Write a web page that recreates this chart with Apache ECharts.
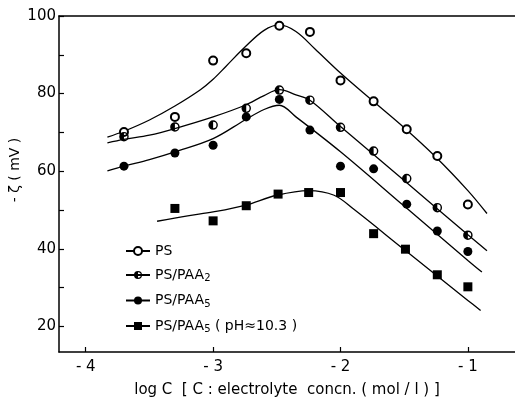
<!DOCTYPE html>
<html>
<head>
<meta charset="utf-8">
<script src="https://cdn.jsdelivr.net/npm/echarts@6/dist/echarts.min.js"></script>
<style>
  html, body { margin: 0; padding: 0; background: #fff; }
  #chart { width: 515px; height: 399px; }
</style>
</head>
<body>
<div id="chart"></div>
<script>
// Measured points: log C on x, -zeta (mV) on y
const logC = [-3.7, -3.3, -3.0, -2.74, -2.48, -2.24, -2.0, -1.74, -1.48, -1.24, -1.0];
const zetaPS = [70.1, 74.0, 88.5, 90.4, 97.5, 95.9, 83.4, 78.0, 70.8, 63.9, 51.4];
const zetaPAA2 = [68.9, 71.4, 71.9, 76.2, 80.9, 78.3, 71.3, 65.2, 58.1, 50.6, 43.5];
const zetaPAA5 = [61.3, 64.7, 66.7, 74.0, 78.5, 70.6, 61.3, 60.6, 51.5, 44.6, 39.3];
const logCHighPH = [-3.3, -3.0, -2.74, -2.49, -2.25, -2.0, -1.74, -1.49, -1.24, -1.0];
const zetaPAA5HighPH = [50.4, 47.2, 51.1, 54.1, 54.5, 54.5, 43.9, 39.9, 33.3, 30.2];

// Fitted curves drawn through each set
const fitPSx = [-3.83, -3.7, -3.5, -3.3, -3.1, -3.0, -2.9, -2.75, -2.6, -2.48, -2.35, -2.2, -2.0, -1.75, -1.5, -1.25, -1.0, -0.85];
const fitPSy = [68.8, 70.3, 73.2, 76.8, 81.0, 83.7, 87.0, 92.0, 96.3, 97.7, 96.0, 91.5, 85.3, 78.2, 71.2, 63.6, 55.0, 49.1];
const fitPAA2x = [-3.83, -3.7, -3.5, -3.3, -3.0, -2.75, -2.6, -2.48, -2.35, -2.24, -2.0, -1.5, -1.0, -0.85];
const fitPAA2y = [67.3, 68.2, 69.3, 71.0, 74.0, 77.0, 79.5, 81.0, 79.7, 78.3, 71.5, 57.6, 43.6, 39.5];
const fitPAA5x = [-3.83, -3.7, -3.5, -3.3, -3.0, -2.75, -2.6, -2.48, -2.35, -2.0, -1.5, -1.0, -0.89];
const fitPAA5y = [60.1, 61.3, 63.0, 65.0, 68.4, 73.2, 75.9, 77.0, 74.0, 65.0, 51.0, 37.0, 34.0];
const fitHighPHx = [-3.44, -3.2, -3.0, -2.75, -2.5, -2.25, -2.05, -1.9, -1.5, -1.0, -0.9];
const fitHighPHy = [47.1, 48.5, 49.5, 51.2, 53.8, 55.0, 53.8, 50.3, 39.8, 26.7, 24.1];

// Axis ticks and labels
const xTicks = [-4, -3, -2, -1];
const yTicks = [20, 30, 40, 50, 60, 70, 80, 90, 100];
const yLabels = [20, 40, 60, 80, 100];

const seriesNames = ['PS', 'PS/PAA2', 'PS/PAA5', 'PS/PAA5 (pH≈10.3)'];
const legendText = {
  'PS': 'PS',
  'PS/PAA2': 'PS/PAA{sub|2}',
  'PS/PAA5': 'PS/PAA{sub|5}',
  'PS/PAA5 (pH≈10.3)': 'PS/PAA{sub|5} ( pH≈10.3 )'
};

// Symbols: open circle, ring with left half filled, disc, square
const halfPath = 'path://M0,-10 A10,10 0 1 1 0,10 A10,10 0 1 1 0,-10 Z M0,-7 L0,7 A7,7 0 0 0 0,-7 Z';
const symbols = ['emptyCircle', halfPath, 'circle', 'rect'];
const sizes = [8, 9.5, 9, 9];
const borders = [1.3, 0, 0, 0];

const fits = [[fitPSx, fitPSy], [fitPAA2x, fitPAA2y], [fitPAA5x, fitPAA5y], [fitHighPHx, fitHighPHy]];
const points = [[logC, zetaPS], [logC, zetaPAA2], [logC, zetaPAA5], [logCHighPH, zetaPAA5HighPH]];

const pair = (xs, ys) => xs.map((x, i) => [x, ys[i]]);

const series = [];
seriesNames.forEach((name, i) => {
  series.push({
    name: name,
    type: 'line',
    data: pair(fits[i][0], fits[i][1]),
    smooth: 0.35,
    showSymbol: false,
    symbol: symbols[i],
    symbolSize: sizes[i],
    itemStyle: { color: '#000', borderColor: '#000', borderWidth: borders[i] },
    lineStyle: { color: '#000', width: 1.3 },
    silent: true,
    z: 2
  });
});
seriesNames.forEach((name, i) => {
  series.push({
    name: name,
    type: 'scatter',
    data: pair(points[i][0], points[i][1]),
    symbol: symbols[i],
    symbolSize: sizes[i],
    itemStyle: { color: '#000', borderColor: '#000', borderWidth: borders[i], opacity: 1 },
    z: 3
  });
});

const font = 'DejaVu Sans';

const option = {
  animation: false,
  backgroundColor: '#fff',
  textStyle: { fontFamily: font, color: '#000' },
  grid: { left: 59, right: 0, top: 16, bottom: 47, containLabel: false, outerBoundsMode: 'none' },
  legend: {
    data: seriesNames,
    orient: 'vertical',
    left: 120,
    top: 239,
    itemWidth: 24,
    itemHeight: 10,
    itemGap: 10,
    selectedMode: false,
    formatter: n => legendText[n],
    textStyle: {
      fontFamily: font, fontSize: 14, color: '#000',
      rich: { sub: { fontFamily: font, fontSize: 10, padding: [7, 0, 0, 0], color: '#000' } }
    }
  },
  xAxis: [{
    type: 'value',
    position: 'bottom',
    min: -4.21,
    max: -0.63,
    name: 'log C  [ C : electrolyte  concn. ( mol / l ) ]',
    nameLocation: 'middle',
    nameGap: 31,
    nameMoveOverlap: false,
    nameTextStyle: { fontFamily: font, fontSize: 15, color: '#000' },
    axisLine: { lineStyle: { color: '#000', width: 1.5 } },
    axisTick: { inside: true, length: 5, customValues: xTicks, lineStyle: { color: '#000', width: 1.2 } },
    axisLabel: { customValues: xTicks, fontFamily: font, fontSize: 15, color: '#000', margin: 8,
                 formatter: v => (v < 0 ? '- ' : '') + Math.abs(v) },
    splitLine: { show: false }
  }, {
    type: 'value',
    position: 'top',
    min: -4.21,
    max: -0.63,
    axisLine: { show: true, lineStyle: { color: '#000', width: 1.5 } },
    axisTick: { show: false },
    axisLabel: { show: false },
    splitLine: { show: false }
  }],
  yAxis: {
    type: 'value',
    min: 13.4,
    max: 100,
    name: '- ζ ( mV )',
    nameLocation: 'middle',
    nameGap: 37,
    nameRotate: 90,
    nameMoveOverlap: false,
    nameTextStyle: { fontFamily: font, fontSize: 14, color: '#000', padding: [0, 0, 0, 28] },
    axisLine: { lineStyle: { color: '#000', width: 1.5 } },
    axisTick: { inside: true, length: 5, customValues: yTicks, lineStyle: { color: '#000', width: 1.2 } },
    axisLabel: { customValues: yLabels, fontFamily: font, fontSize: 15, color: '#000', margin: 3 },
    splitLine: { show: false }
  },
  series: series
};

const chart = echarts.init(document.getElementById('chart'), null, { renderer: 'canvas' });
chart.setOption(option);
</script>
</body>
</html>
